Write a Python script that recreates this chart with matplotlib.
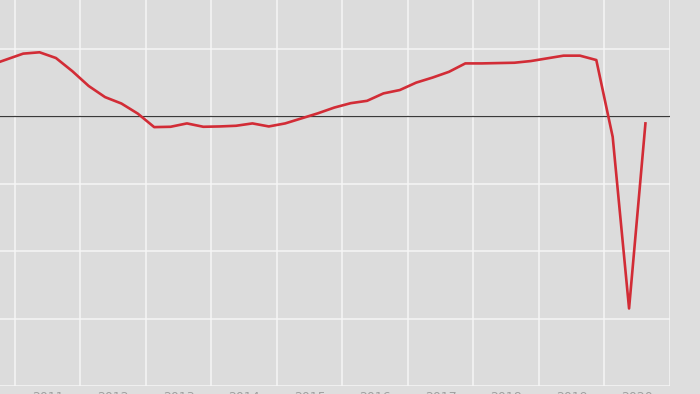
import numpy as np
import matplotlib.pyplot as plt
from matplotlib.ticker import FixedLocator, NullFormatter

# Datos trimestrales (valor)
quarters = ["2010 Q3", "2010 Q4",
            "2011 Q1", "2011 Q2", "2011 Q3", "2011 Q4",
            "2012 Q1", "2012 Q2", "2012 Q3", "2012 Q4",
            "2013 Q1", "2013 Q2", "2013 Q3", "2013 Q4",
            "2014 Q1", "2014 Q2", "2014 Q3", "2014 Q4",
            "2015 Q1", "2015 Q2", "2015 Q3", "2015 Q4",
            "2016 Q1", "2016 Q2", "2016 Q3", "2016 Q4",
            "2017 Q1", "2017 Q2", "2017 Q3", "2017 Q4",
            "2018 Q1", "2018 Q2", "2018 Q3", "2018 Q4",
            "2019 Q1", "2019 Q2", "2019 Q3", "2019 Q4",
            "2020 Q1", "2020 Q2", "2020 Q3"]
values = [1.52, 1.69,
          1.86, 1.90, 1.73, 1.34,
          0.90, 0.57, 0.38, 0.08,
          -0.32, -0.31, -0.21, -0.31,
          -0.30, -0.28, -0.21, -0.30,
          -0.21, -0.06, 0.09, 0.26,
          0.39, 0.46, 0.68, 0.78,
          1.00, 1.15, 1.32, 1.57,
          1.57, 1.58, 1.59, 1.64,
          1.72, 1.80, 1.80, 1.67,
          -0.61, -5.70, -0.21]
years = list(range(2011, 2021))
y_ticks = [-8, -6, -4, -2, 0, 2]

# Posición en el eje: mitad del trimestre
x = [int(q[:4]) + (int(q[-1]) - 0.5) / 4 for q in quarters]

fig = plt.figure(figsize=(7, 3.94), dpi=100, facecolor="#dedede")
ax = fig.add_axes([0, 8 / 394, 670 / 700, 386 / 394])
ax.set_facecolor("#dcdcdc")

ax.plot(x, values, color="#d22c36", linewidth=1.9, solid_joinstyle="round", zorder=3)
ax.axhline(0, color="#3a3a3a", linewidth=0.9, zorder=2)

# Rejilla en los límites de año, etiquetas a mitad de año
ax.xaxis.set_major_locator(FixedLocator(years + [2021]))
ax.xaxis.set_major_formatter(NullFormatter())
ax.xaxis.set_minor_locator(FixedLocator([yr + 0.5 for yr in years]))
ax.set_xticklabels([str(yr) for yr in years], minor=True)
ax.tick_params(axis="x", which="both", length=0, pad=3.5, labelsize=9,
               labelcolor="#a0a0a0")
ax.set_yticks(y_ticks)
ax.tick_params(axis="y", length=0, labelleft=False)

ax.set_xlim(2010.771, 2021.0)
ax.set_ylim(-8, 116.3 / 33.7)

ax.grid(True, which="major", color="#f6f6f6", linewidth=1.1, zorder=1)
ax.set_axisbelow(True)
for s in ax.spines.values():
    s.set_visible(False)

fig.savefig("out.png", dpi=100, facecolor=fig.get_facecolor())
